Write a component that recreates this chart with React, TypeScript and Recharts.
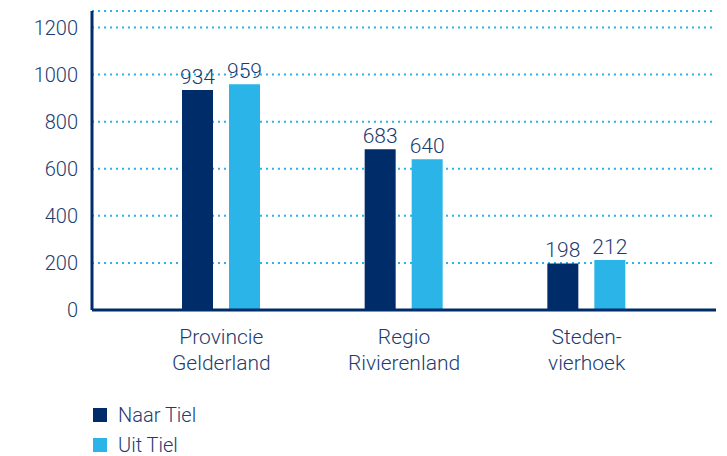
import React from "react";
import { BarChart, Bar, XAxis, YAxis, CartesianGrid, LabelList } from "recharts";

const categories = ["Provincie\nGelderland", "Regio\nRivierenland", "Steden-\nvierhoek"];
const naarTiel = [934, 683, 198];
const uitTiel = [959, 640, 212];
const yTicks = [0, 200, 400, 600, 800, 1000, 1200];
const seriesNames = ["Naar Tiel", "Uit Tiel"];

const DARK = "#002D6A";
const LIGHT = "#2AB4E8";
const TEXT = "#1E3C70";
const FONT = "Roboto, 'Liberation Sans', sans-serif";
const WEIGHT = 300;

const data = categories.map((c, i) => ({ name: c, naar: naarTiel[i], uit: uitTiel[i] }));

const XTick = (props: any) => {
  const { x, y, payload } = props;
  const lines = String(payload.value).split("\n");
  return (
    <text x={x} y={y} textAnchor="middle" fill={TEXT} fontSize={21} fontWeight={WEIGHT} fontFamily={FONT}>
      {lines.map((l, i) => (
        <tspan key={i} x={x} dy={26}>{l}</tspan>
      ))}
    </text>
  );
};

export default function App() {
  const colors = [DARK, LIGHT];
  return (
    <div style={{ position: "absolute", left: 0, top: 0, width: 727, height: 456, background: "#fff" }}>
      <BarChart
        width={727}
        height={456}
        data={data}
        margin={{ top: 11, right: 11, left: 0, bottom: 0 }}
        barSize={31}
        barGap={16}
      >
        <CartesianGrid vertical={false} stroke={LIGHT} strokeDasharray="2 4" strokeWidth={2} />
        <XAxis
          dataKey="name"
          height={146}
          tick={<XTick />}
          tickLine={false}
          axisLine={{ stroke: DARK, strokeWidth: 3 }}
          padding={{ left: 38, right: 38 }}
          interval={0}
        />
        <YAxis
          width={92}
          domain={[0, 1270]}
          ticks={yTicks}
          tickLine={false}
          tickSize={0}
          tickMargin={14}
          axisLine={{ stroke: DARK, strokeWidth: 3 }}
          tick={{ fill: TEXT, fontSize: 20, fontWeight: WEIGHT, fontFamily: FONT }}
        />
        <Bar dataKey="naar" name={seriesNames[0]} fill={DARK} isAnimationActive={false}>
          <LabelList dataKey="naar" position="top" offset={6} fill={TEXT} fontSize={21} fontWeight={WEIGHT} fontFamily={FONT} />
        </Bar>
        <Bar dataKey="uit" name={seriesNames[1]} fill={LIGHT} isAnimationActive={false}>
          <LabelList dataKey="uit" position="top" offset={6} fill={TEXT} fontSize={21} fontWeight={WEIGHT} fontFamily={FONT} />
        </Bar>
      </BarChart>
      <div style={{ position: "absolute", left: 93, top: 400, fontFamily: FONT, fontSize: 20, fontWeight: WEIGHT, color: TEXT, lineHeight: "16px" }}>
        {seriesNames.map((t, i) => (
          <div key={i} style={{ display: "flex", alignItems: "center", height: 30 }}>
            <span style={{ width: 14, height: 14, background: colors[i], display: "inline-block", marginRight: 11 }} />
            <span>{t}</span>
          </div>
        ))}
      </div>
    </div>
  );
}
